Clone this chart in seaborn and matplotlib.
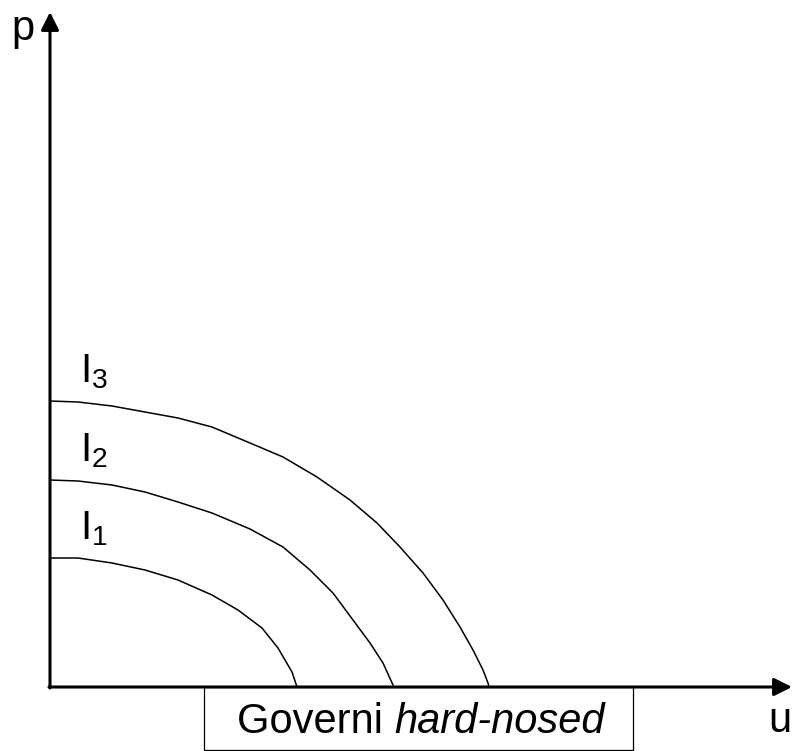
import matplotlib
matplotlib.use("Agg")
import matplotlib.pyplot as plt
import seaborn as sns
import pandas as pd
from matplotlib.patches import Rectangle

# Curve points (origin at the axes corner)
i1_x = [0, 28, 62, 95, 128, 162, 188, 212, 228, 242, 247]
i1_y = [129, 129, 124, 117, 107, 92, 77, 59, 39, 15, 0]

i2_x = [0, 28, 62, 95, 128, 162, 200, 233, 260, 283, 303, 320, 333, 343, 343]
i2_y = [207, 206, 202, 195, 185, 174, 158, 140, 117, 94, 67, 44, 24, 4, 0]

i3_x = [0, 28, 62, 95, 128, 162, 200, 233, 267, 300, 327, 350, 373, 393,
        410, 423, 433, 438, 439]
i3_y = [286, 285, 281, 275, 269, 260, 244, 230, 210, 187, 164, 140, 114, 87,
        60, 37, 17, 4, 0]

curve_labels = ["I_1", "I_2", "I_3"]

sns.set_style("white")
plt.rcParams["font.family"] = ["Liberation Sans", "DejaVu Sans"]
plt.rcParams["text.color"] = "black"
plt.rcParams["mathtext.fontset"] = "custom"
plt.rcParams["mathtext.rm"] = "Liberation Sans"
plt.rcParams["mathtext.it"] = "Liberation Sans:italic"

fig = plt.figure(figsize=(7.94, 7.51), dpi=100)
ax = fig.add_axes([0, 0, 1, 1])
ax.set_xlim(-50, 744)
ax.set_ylim(-64, 687)
ax.axis("off")

# indifference curves
curves = [(i1_x, i1_y), (i2_x, i2_y), (i3_x, i3_y)]
for (xs, ys), lab in zip(curves, curve_labels):
    df = pd.DataFrame({"u": xs, "p": ys})
    sns.lineplot(data=df, x="u", y="p", sort=False, color="black", lw=1.1, ax=ax)
    ax.text(30, ys[0] + 19, r"$\mathregular{" + lab + "}$", fontsize=29,
            ha="left", va="baseline")

# axes with arrows
arrow = dict(arrowstyle="-|>,head_length=0.54,head_width=0.27", lw=2.2,
             color="black", mutation_scale=20, shrinkA=0, shrinkB=0)
ax.annotate("", xy=(0, 675), xytext=(0, -1), arrowprops=arrow)
ax.annotate("", xy=(742, 0), xytext=(-1, 0), arrowprops=arrow)

ax.text(-39, 647, "p", fontsize=30, ha="left", va="baseline")
ax.text(718, -45, "u", fontsize=30, ha="left", va="baseline")

# box under the axis
ax.add_patch(Rectangle((154, -63), 429, 63, fill=False, lw=0.9, color="black"))
t1 = ax.text(187, -46, "Governi ", fontsize=30, ha="left", va="baseline")
fig.canvas.draw()
bb = t1.get_window_extent().transformed(ax.transData.inverted())
ax.text(bb.x1, -46, "hard-nosed", fontsize=30, style="italic",
        ha="left", va="baseline")

fig.savefig("out.png", dpi=100)
